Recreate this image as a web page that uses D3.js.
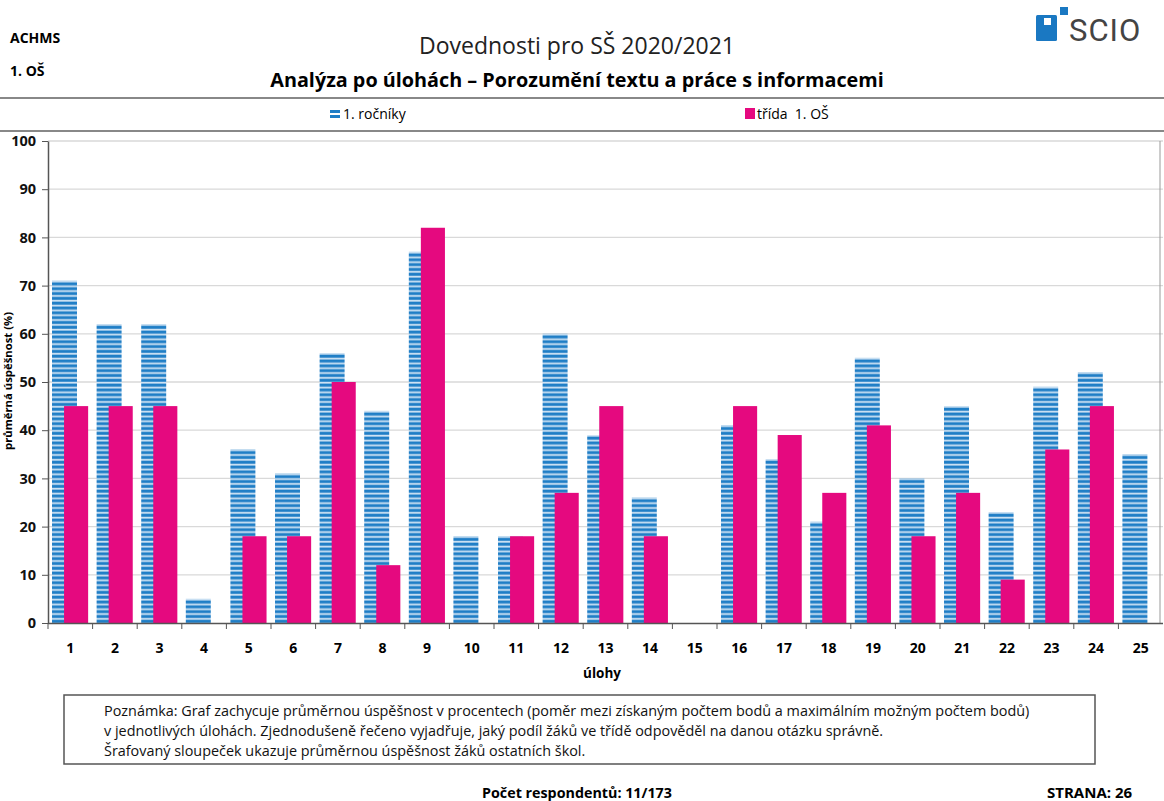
<!DOCTYPE html>
<html>
<head>
<meta charset="utf-8">
<script src="https://cdn.jsdelivr.net/npm/d3@7"></script>
<style>
body { margin: 0; background: #fff; }
svg text { font-family: "Open Sans", "Noto Sans", sans-serif; }
</style>
</head>
<body>
<svg id="chart" width="1164" height="801"></svg>
<script>
var width = 1164;
var height = 801;

// data
var tasks = ['1','2','3','4','5','6','7','8','9','10','11','12','13','14','15','16','17','18','19','20','21','22','23','24','25'];
var rocniky = [71, 62, 62, 5, 36, 31, 56, 44, 77, 18, 18, 60, 39, 26, 0, 41, 34, 21, 55, 30, 45, 23, 49, 52, 35];
var trida = [45, 45, 45, 0, 18, 18, 50, 12, 82, 0, 18, 27, 45, 18, 0, 45, 39, 27, 41, 18, 27, 9, 36, 45, 0];
var yTicks = [0, 10, 20, 30, 40, 50, 60, 70, 80, 90, 100];
var noteLines = [
    'Poznámka: Graf zachycuje průměrnou úspěšnost v procentech (poměr mezi získaným počtem bodů a maximálním možným počtem bodů)',
    'v jednotlivých úlohách. Zjednodušeně řečeno vyjadřuje, jaký podíl žáků ve třídě odpověděl na danou otázku správně.',
    'Šrafovaný sloupeček ukazuje průměrnou úspěšnost žáků ostatních škol.'
];

var blue = '#1f7ec6';
var pink = '#e5097f';

var svg = d3.select('#chart');

var defs = svg.append('defs');
var pat = defs.append('pattern')
    .attr('id', 'hatch')
    .attr('width', 10)
    .attr('height', 4.82)
    .attr('y', 623)
    .attr('patternUnits', 'userSpaceOnUse');
pat.append('rect').attr('width', 10).attr('height', 4.82).attr('fill', '#cfe3f4');
pat.append('rect').attr('y', 1.6).attr('width', 10).attr('height', 3).attr('fill', blue);

// header
svg.append('text').attr('x', 10).attr('y', 43)
    .attr('font-size', 14).attr('font-weight', 'bold').text('ACHMS');
svg.append('text').attr('x', 10).attr('y', 76)
    .attr('font-size', 14).attr('font-weight', 'bold').text('1. OŠ');
svg.append('text').attr('x', 577).attr('y', 54)
    .attr('text-anchor', 'middle').attr('font-size', 23).attr('fill', '#222')
    .text('Dovednosti pro SŠ 2020/2021');
svg.append('text').attr('x', 577).attr('y', 87)
    .attr('text-anchor', 'middle').attr('font-size', 19.8).attr('font-weight', 'bold')
    .text('Analýza po úlohách – Porozumění textu a práce s informacemi');

// logo
var logo = svg.append('g');
logo.append('rect').attr('x', 1036).attr('y', 15).attr('width', 21).attr('height', 26).attr('fill', '#1a78c2').attr('rx', 1.5);
logo.append('rect').attr('x', 1044).attr('y', 18).attr('width', 7).attr('height', 7).attr('fill', '#fff');
logo.append('rect').attr('x', 1060).attr('y', 7).attr('width', 8).attr('height', 8).attr('fill', '#1a78c2');
logo.append('text').attr('x', 1069).attr('y', 41)
    .attr('font-size', 31).attr('fill', '#444').attr('letter-spacing', 1)
    .style('font-family', 'Roboto, sans-serif').style('font-weight', 400)
    .text('SCIO');

// legend frame lines
[98, 131].forEach(function (y) {
    svg.append('line').attr('x1', 0).attr('x2', width).attr('y1', y).attr('y2', y)
        .attr('stroke', '#888').attr('stroke-width', 2);
});
var leg = svg.append('g');
leg.append('rect').attr('x', 330).attr('y', 110).attr('width', 10).attr('height', 3).attr('fill', blue);
leg.append('rect').attr('x', 330).attr('y', 115).attr('width', 10).attr('height', 3).attr('fill', blue);
leg.append('text').attr('x', 343).attr('y', 119).attr('font-size', 14).text('1. ročníky');
leg.append('rect').attr('x', 745).attr('y', 108).attr('width', 10).attr('height', 11).attr('fill', pink);
leg.append('text').attr('x', 757).attr('y', 119).attr('font-size', 14).attr('xml:space', 'preserve').text('třída  1. OŠ');

// plot
var x0 = 48, x1 = 1163, yTop = 141, yBot = 623;
var x = d3.scaleBand().domain(tasks).range([x0, x1]).paddingInner(0).paddingOuter(0);
var y = d3.scaleLinear().domain([0, 100]).range([yBot, yTop]);
var bw = x.bandwidth();

svg.append('g').selectAll('line').data(yTicks.slice(1)).enter().append('line')
    .attr('x1', x0).attr('x2', x1)
    .attr('y1', function (d) { return y(d); }).attr('y2', function (d) { return y(d); })
    .attr('stroke', '#d9d9d9').attr('stroke-width', 1.3);

svg.append('line').attr('x1', 1160).attr('x2', 1160).attr('y1', yTop).attr('y2', yBot)
    .attr('stroke', '#999');

svg.append('g').selectAll('rect').data(rocniky).enter().append('rect')
    .attr('x', function (d, i) { return x(tasks[i]) + bw * 0.09; })
    .attr('y', function (d) { return y(d); })
    .attr('width', bw * 0.56)
    .attr('height', function (d) { return yBot - y(d); })
    .attr('fill', 'url(#hatch)');

svg.append('g').selectAll('rect').data(trida).enter().append('rect')
    .attr('x', function (d, i) { return x(tasks[i]) + bw * 0.36; })
    .attr('y', function (d) { return y(d); })
    .attr('width', bw * 0.54)
    .attr('height', function (d) { return yBot - y(d); })
    .attr('fill', pink);

// y axis
var yAxis = svg.append('g').attr('transform', 'translate(' + x0 + ',0)')
    .call(d3.axisLeft(y).tickValues(yTicks).tickSize(6).tickPadding(6).tickSizeOuter(0));
yAxis.select('.domain').attr('stroke', '#555').attr('stroke-width', 1.5);
yAxis.selectAll('.tick line').attr('stroke', '#555');
yAxis.selectAll('text').attr('font-size', 14.5).attr('font-weight', 'bold')
    .style('font-family', '"Open Sans", sans-serif').attr('fill', '#111');

// x axis
svg.append('line').attr('x1', x0).attr('x2', x1).attr('y1', yBot + 0.5).attr('y2', yBot + 0.5)
    .attr('stroke', '#555').attr('stroke-width', 1.5);
svg.append('g').selectAll('line').data(tasks).enter().append('line')
    .attr('x1', function (d) { return x(d); }).attr('x2', function (d) { return x(d); })
    .attr('y1', yBot).attr('y2', yBot + 6).attr('stroke', '#555');
svg.append('g').selectAll('text').data(tasks).enter().append('text')
    .attr('x', function (d) { return x(d) + bw / 2; })
    .attr('y', 653)
    .attr('text-anchor', 'middle').attr('font-size', 14).attr('font-weight', 'bold')
    .text(function (d) { return d; });

svg.append('text').attr('x', 602).attr('y', 678).attr('text-anchor', 'middle')
    .attr('font-size', 13.5).attr('font-weight', 'bold').text('úlohy');
svg.append('text').attr('transform', 'translate(12,381) rotate(-90)')
    .attr('text-anchor', 'middle').attr('font-size', 11.3).attr('font-weight', 'bold')
    .text('průměrná úspěšnost (%)');

// note
svg.append('rect').attr('x', 64).attr('y', 695).attr('width', 1031).attr('height', 69)
    .attr('fill', 'none').attr('stroke', '#555').attr('stroke-width', 1.5);
svg.append('g').selectAll('text').data(noteLines).enter().append('text')
    .attr('x', 104).attr('y', function (d, i) { return 716 + i * 20; })
    .attr('font-size', 14.4).attr('fill', '#111')
    .text(function (d) { return d; });

// footer
svg.append('text').attr('x', 482).attr('y', 798).attr('font-size', 14.3).attr('font-weight', 'bold')
    .text('Počet respondentů: 11/173');
svg.append('text').attr('x', 1047).attr('y', 798).attr('font-size', 15).attr('font-weight', 'bold')
    .text('STRANA: 26');
</script>
</body>
</html>
